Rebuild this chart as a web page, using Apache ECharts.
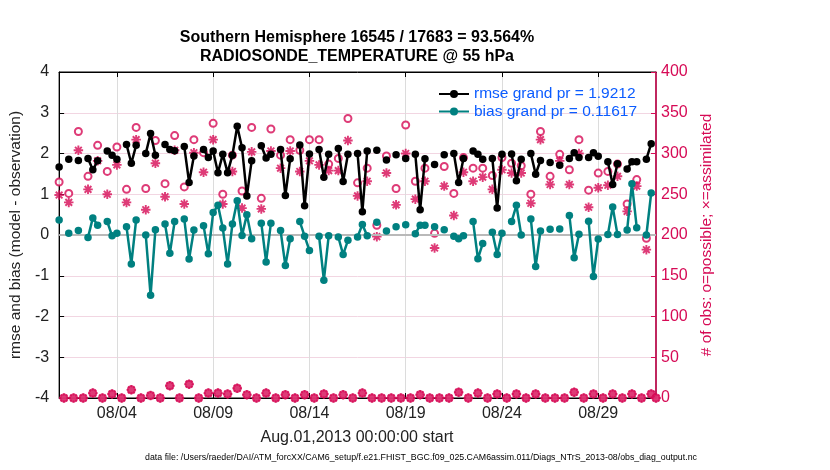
<!DOCTYPE html>
<html><head><meta charset="utf-8">
<script src="https://cdn.jsdelivr.net/npm/echarts@6/dist/echarts.min.js"></script>
<style>html,body{margin:0;padding:0;background:#fff}#c{width:830px;height:470px}</style>
</head><body><div id="c"></div>
<script>
// 6-hourly slots starting Aug.01,2013 00:00 (slot k at k*0.25 days)
const stepDays = 0.25;
const xTickDays = [3, 8, 13, 18, 23, 28];
const xTickLabels = ['08/04', '08/09', '08/14', '08/19', '08/24', '08/29'];
const leftTicks = [-4, -3, -2, -1, 0, 1, 2, 3, 4];
const rightTicks = [0, 50, 100, 150, 200, 250, 300, 350, 400];

const rmse = [1.67, null, 1.86, null, 1.83, null, 1.88, 1.60, 1.82, null,
 2.06, 1.96, 1.86, null, 2.22, 1.76, 2.20, null, 2.00, 2.49,
 1.96, null, 2.22, 2.10, 2.07, null, 2.17, 1.29, 1.94, null,
 2.10, 1.90, 2.06, 1.53, 1.98, 1.53, 1.96, 2.67, 2.14, 0.96,
 1.82, null, 2.19, 1.89, 1.98, null, 2.10, 0.97, 1.87, null,
 2.21, 0.72, 1.99, null, 2.10, 1.42, 1.98, null, 2.12, 1.31,
 1.98, null, 2.00, 0.57, 2.06, null, 2.08, null, 1.84, null,
 1.97, null, 1.88, null, 1.98, 0.62, 1.87, null, 1.73, null,
 1.97, null, 2.00, 1.29, 1.88, null, 2.06, 1.98, 1.86, null,
 1.88, 0.66, 1.98, null, 1.99, 1.33, 1.86, null, 2.00, 1.49,
 1.83, null, 1.78, null, 1.71, null, 1.88, 2.02, 1.90, null,
 1.90, 2.02, 1.93, null, 1.80, 1.24, 1.75, null, 1.62, 1.80,
 1.80, null, 1.86, 2.24, null];

const bias = [0.37, null, 0.04, null, 0.11, null, -0.06, 0.42, 0.24, null,
 0.33, -0.02, 0.04, null, 0.20, -0.71, 0.37, null, 0.00, -1.48,
 0.13, null, 0.27, -0.45, 0.33, null, 0.39, -0.59, 0.12, null,
 0.23, -0.46, 0.55, 0.73, 0.17, -0.71, 0.27, 0.84, -0.01, 0.50,
 -0.09, null, 0.29, -0.66, 0.29, null, 0.11, -0.75, -0.09, null,
 0.33, -0.03, -0.38, null, -0.03, -1.11, -0.02, null, -0.05, -0.48,
 -0.13, null, -0.05, 0.26, -0.02, null, 0.31, null, 0.10, null,
 0.20, null, 0.25, null, 0.03, 0.24, 0.24, null, 0.20, null,
 0.13, null, -0.03, -0.09, -0.02, null, 0.33, -0.58, -0.21, null,
 0.07, -0.48, 0.04, null, 0.33, 0.73, 0.00, null, 0.39, -0.77,
 0.10, null, 0.14, null, 0.15, null, 0.48, -0.56, 0.02, null,
 0.34, -1.02, -0.10, null, 0.01, 0.69, 0.01, null, 0.12, 1.26,
 0.18, null, 0.00, 1.03, null];

const possible = [265, 0, 251, 0, 327, 0, 272, 6, 310, 0,
 278, 5, 308, 0, 256, 10, 332, 0, 257, 3,
 316, 0, 263, 15, 322, 0, 259, 17, 317, 0,
 301, 6, 337, 6, 250, 5, 298, 12, 254, 4,
 332, 0, 245, 6, 330, 0, 298, 4, 317, 0,
 304, 4, 317, 0, 317, 5, 287, 0, 294, 4,
 343, 0, 264, 6, 282, 0, 212, 0, 297, 0,
 257, 0, 335, 0, 266, 4, 282, 0, 202, 0,
 284, 0, 251, 7, 295, 0, 282, 6, 282, 0,
 273, 5, 295, 0, 288, 5, 285, 0, 250, 5,
 327, 0, 272, 0, 299, 0, 280, 7, 317, 0,
 255, 5, 276, 0, 278, 5, 287, 0, 238, 5,
 268, 0, 196, 5, 0];

const assimilated = [249, 0, 240, 0, 304, 0, 256, 6, 291, 0,
 250, 5, 286, 0, 240, 10, 317, 0, 231, 3,
 288, 0, 247, 15, 304, 0, 238, 17, 301, 0,
 277, 6, 317, 6, 238, 5, 278, 12, 233, 4,
 302, 0, 232, 6, 303, 0, 282, 4, 303, 0,
 278, 4, 291, 0, 286, 5, 279, 0, 279, 4,
 316, 0, 248, 6, 266, 0, 198, 0, 276, 0,
 237, 0, 300, 0, 244, 4, 266, 0, 184, 0,
 260, 0, 224, 7, 277, 0, 266, 6, 271, 0,
 256, 5, 280, 0, 276, 5, 276, 0, 239, 5,
 317, 0, 262, 0, 291, 0, 262, 7, 300, 0,
 234, 5, 258, 0, 261, 5, 272, 0, 229, 5,
 260, 0, 182, 5, 0];

const rmseName = 'rmse grand pr = 1.9212';
const biasName = 'bias grand pr = 0.11617';

const FONT = '"Liberation Sans", Arial, Helvetica, sans-serif';
const CRIMSON = '#d60a55';
const TEAL = '#008080';
const BLUE = '#0b5cff';
const ASTERISK = 'path://M4,0L6,0L6,10L4,10Z M0,4L10,4L10,6L0,6Z ' +
  'M2.17,0.75L9.25,7.83L7.83,9.25L0.75,2.17Z M0.75,7.83L7.83,0.75L9.25,2.17L2.17,9.25Z';

function pairs(arr) { return arr.map((v, i) => [i * stepDays, v == null ? '-' : v]); }
function scatterPairs(arr) { return arr.map((v, i) => [i * stepDays, v]).filter(p => p[1] != null); }

const chart = echarts.init(document.getElementById('c'), null, { renderer: 'canvas' });

const xAxisCommon = {
  type: 'value', min: 0, max: 31,
  axisLine: { show: true, onZero: false, lineStyle: { color: '#000', width: 1 } },
  axisTick: { show: true, inside: true, length: 5, customValues: xTickDays, lineStyle: { color: '#000' } },
};

chart.setOption({
  animation: false,
  backgroundColor: '#fff',
  textStyle: { fontFamily: FONT },
  grid: { left: 58, right: 174, top: 72, bottom: 72, show: true, borderColor: '#000', borderWidth: 1, backgroundColor: 'transparent', containLabel: false },
  graphic: [
    { type: 'text', style: { text: 'Southern Hemisphere 16545 / 17683 = 93.564%', font: 'bold 16px ' + FONT, fill: '#000', textAlign: 'center' }, position: [357, 30] },
    { type: 'text', style: { text: 'RADIOSONDE_TEMPERATURE @ 55 hPa', font: 'bold 16px ' + FONT, fill: '#000', textAlign: 'center' }, position: [357, 49] },
    { type: 'text', style: { text: 'Aug.01,2013 00:00:00 start', font: '16px ' + FONT, fill: '#222', textAlign: 'center' }, position: [357, 430] },
    { type: 'text', style: { text: 'data file: /Users/raeder/DAI/ATM_forcXX/CAM6_setup/f.e21.FHIST_BGC.f09_025.CAM6assim.011/Diags_NTrS_2013-08/obs_diag_output.nc', font: '8.8px ' + FONT, fill: '#000', textAlign: 'center' }, position: [421, 453] }
  ],
  legend: {
    data: [rmseName, biasName], orient: 'vertical', left: 433, top: 81,
    itemWidth: 30, itemHeight: 10, itemGap: 1.5,
    textStyle: { color: BLUE, fontSize: 15.5, fontFamily: FONT },
    backgroundColor: 'transparent', selectedMode: false
  },
  xAxis: [
    Object.assign({}, xAxisCommon, {
      position: 'bottom',
      axisLabel: { show: true, customValues: xTickDays, fontSize: 16, color: '#222', margin: 8,
        formatter: v => { const i = xTickDays.indexOf(Math.round(v)); return i >= 0 ? xTickLabels[i] : ''; } },
      splitLine: { show: true, lineStyle: { color: '#dcdcdc', width: 1 } }
    }),
    Object.assign({}, xAxisCommon, {
      position: 'top', axisLabel: { show: false }, splitLine: { show: false }
    })
  ],
  yAxis: [
    {
      type: 'value', min: -4, max: 4, interval: 1, position: 'left',
      name: 'rmse and bias (model - observation)', nameLocation: 'middle', nameGap: 32, nameRotate: 90,
      nameTextStyle: { fontSize: 15.5, color: '#222', fontFamily: FONT },
      axisLine: { show: true, onZero: false, lineStyle: { color: '#000', width: 1 } },
      axisTick: { show: true, inside: true, length: 5, lineStyle: { color: '#000' } },
      axisLabel: { fontSize: 16, color: '#222', margin: 10, formatter: v => leftTicks.indexOf(v) >= 0 ? String(v) : '' },
      splitLine: { show: true, lineStyle: { color: '#f2d6e2', width: 1 } }
    },
    {
      type: 'value', min: 0, max: 400, interval: 50, position: 'right',
      name: '# of obs: o=possible; \u00d7=assimilated', nameLocation: 'middle', nameGap: 40, nameRotate: 90,
      nameTextStyle: { fontSize: 15.5, color: CRIMSON, fontFamily: FONT },
      axisLine: { show: true, onZero: false, lineStyle: { color: CRIMSON, width: 1.5 } },
      axisTick: { show: true, inside: true, length: 5, lineStyle: { color: CRIMSON } },
      axisLabel: { fontSize: 16, color: CRIMSON, margin: 5, formatter: v => rightTicks.indexOf(v) >= 0 ? String(v) : '' },
      splitLine: { show: false }
    }
  ],
  series: [
    {
      name: 'zero', type: 'line', xAxisIndex: 0, yAxisIndex: 0, data: [], silent: true,
      markLine: { silent: true, symbol: 'none', label: { show: false }, lineStyle: { color: '#b9b9b9', width: 2, type: 'solid' }, data: [{ yAxis: 0 }] }
    },
    {
      name: 'possible', type: 'scatter', xAxisIndex: 0, yAxisIndex: 1,
      data: scatterPairs(possible), symbol: 'circle', symbolSize: 7,
      itemStyle: { color: '#fff', borderColor: CRIMSON, borderWidth: 2 }, z: 3
    },
    {
      name: 'assimilated', type: 'scatter', xAxisIndex: 0, yAxisIndex: 1,
      data: scatterPairs(assimilated), symbol: ASTERISK, symbolSize: 9.5,
      itemStyle: { color: CRIMSON, borderWidth: 0 }, z: 4
    },
    {
      name: rmseName, type: 'line', xAxisIndex: 0, yAxisIndex: 0, data: pairs(rmse),
      symbol: 'circle', symbolSize: 7.5, showSymbol: true, connectNulls: false,
      lineStyle: { color: '#000', width: 2.5 }, itemStyle: { color: '#000' }, z: 5
    },
    {
      name: biasName, type: 'line', xAxisIndex: 0, yAxisIndex: 0, data: pairs(bias),
      symbol: 'circle', symbolSize: 7.5, showSymbol: true, connectNulls: false,
      lineStyle: { color: TEAL, width: 2.5 }, itemStyle: { color: TEAL }, z: 5
    }
  ]
});
</script>
</body></html>
